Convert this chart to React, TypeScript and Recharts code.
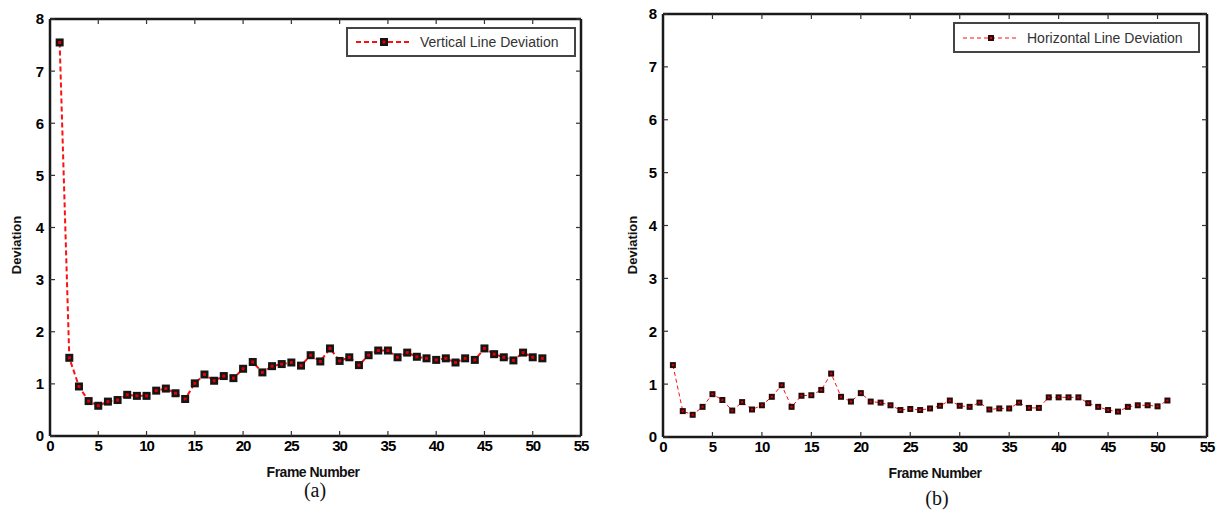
import React from "react"
import { LineChart, Line, XAxis, YAxis } from "recharts"

// frame numbers shared by both plots
const frames = [
  1, 2, 3, 4, 5, 6, 7, 8, 9, 10, 11, 12, 13, 14, 15, 16, 17, 18, 19, 20,
  21, 22, 23, 24, 25, 26, 27, 28, 29, 30, 31, 32, 33, 34, 35, 36, 37, 38, 39, 40,
  41, 42, 43, 44, 45, 46, 47, 48, 49, 50, 51
]

const verticalDeviation = [
  7.55, 1.5, 0.95, 0.67, 0.58, 0.66, 0.69, 0.79, 0.77, 0.77, 0.87, 0.91, 0.82, 0.71, 1.01, 1.18, 1.06, 1.15, 1.11, 1.29,
  1.42, 1.22, 1.34, 1.38, 1.41, 1.35, 1.55, 1.43, 1.68, 1.44, 1.51, 1.36, 1.55, 1.64, 1.64, 1.51, 1.6, 1.52, 1.49, 1.46,
  1.49, 1.41, 1.49, 1.46, 1.68, 1.57, 1.51, 1.45, 1.6, 1.51, 1.49
]

const horizontalDeviation = [
  1.36, 0.49, 0.42, 0.57, 0.81, 0.7, 0.5, 0.66, 0.52, 0.6, 0.76, 0.98, 0.57, 0.78, 0.79, 0.89, 1.2, 0.76, 0.67, 0.83,
  0.67, 0.65, 0.6, 0.51, 0.53, 0.51, 0.54, 0.59, 0.69, 0.59, 0.57, 0.65, 0.52, 0.54, 0.54, 0.65, 0.55, 0.55, 0.75, 0.75,
  0.75, 0.75, 0.64, 0.57, 0.51, 0.48, 0.57, 0.6, 0.6, 0.58, 0.69
]

const xTicks = [0, 5, 10, 15, 20, 25, 30, 35, 40, 45, 50, 55]
const yTicks = [0, 1, 2, 3, 4, 5, 6, 7, 8]

const fontStack = "Liberation Sans, Arial, sans-serif"
const axisStroke = { stroke: "#1a1a1a", strokeWidth: 2.5 }
const tickStroke = { stroke: "#333", strokeWidth: 1.2 }
const tickTextStyle = { fontFamily: fontStack, fontWeight: 900, fontSize: 15, fill: "#000" }

function renderBottomTick({ x, y, payload }: any) {
  return (
    <text x={x} y={y} dy="0.75em" textAnchor="middle" style={tickTextStyle} letterSpacing={-1}>
      {payload.value}
    </text>
  )
}

function renderLeftTick({ x, y, payload }: any) {
  return (
    <text x={x} y={y} dy="0.36em" textAnchor="end" style={tickTextStyle}>
      {payload.value}
    </text>
  )
}

function SquareDot({ cx, cy, size, inner, outer }: any) {
  if (cx == null || cy == null) return null
  return (
    <g>
      <rect x={cx - size / 2} y={cy - size / 2} width={size} height={size} fill={outer} />
      <rect x={cx - inner / 2} y={cy - inner / 2} width={inner} height={inner} fill="#e00000" />
    </g>
  )
}

interface PanelProps {
  left: number
  width: number
  margin: { top: number; right: number; bottom: number; left: number }
  values: number[]
  name: string
  lineWidth: number
  dash: string
  dotSize: number
  dotInner: number
  dotOuter: string
  legend: { left: number; top: number; width: number; height: number }
  yLabelX: number
  xLabelX: number
  xLabelY: number
  caption: string
  captionX: number
  captionY: number
}

function Panel(p: PanelProps) {
  const data = frames.map((f, i) => ({ frame: f, value: p.values[i] }))

  return (
    <>
      <div style={{ position: "absolute", left: p.left, top: 0 }}>
        <LineChart width={p.width} height={514} data={data} margin={p.margin}>
          <XAxis
            dataKey="frame"
            type="number"
            domain={[0, 55]}
            ticks={xTicks}
            interval={0}
            height={30}
            tickSize={-5}
            tickMargin={9}
            tick={renderBottomTick}
            axisLine={axisStroke}
            tickLine={tickStroke}
          />
          <XAxis
            xAxisId="top"
            orientation="top"
            dataKey="frame"
            type="number"
            domain={[0, 55]}
            ticks={xTicks}
            interval={0}
            height={1}
            tickSize={-5}
            tickFormatter={() => ""}
            axisLine={axisStroke}
            tickLine={tickStroke}
          />
          <YAxis
            type="number"
            domain={[0, 8]}
            ticks={yTicks}
            interval={0}
            width={30}
            tickSize={-5}
            tickMargin={11}
            tick={renderLeftTick}
            axisLine={axisStroke}
            tickLine={tickStroke}
          />
          <YAxis
            yAxisId="right"
            orientation="right"
            type="number"
            domain={[0, 8]}
            ticks={yTicks}
            interval={0}
            width={1}
            tickSize={-5}
            tickFormatter={() => ""}
            axisLine={axisStroke}
            tickLine={tickStroke}
          />
          {/* invisible series so the box axes on top/right are drawn */}
          <Line
            xAxisId="top"
            yAxisId="right"
            dataKey="value"
            stroke="none"
            dot={false}
            activeDot={false}
            legendType="none"
            isAnimationActive={false}
          />
          <Line
            type="linear"
            dataKey="value"
            name={p.name}
            stroke="#ff1010"
            strokeWidth={p.lineWidth}
            strokeDasharray={p.dash}
            isAnimationActive={false}
            dot={(d: any) => (
              <SquareDot key={d.index} cx={d.cx} cy={d.cy} size={p.dotSize} inner={p.dotInner} outer={p.dotOuter} />
            )}
            activeDot={false}
          />
        </LineChart>
      </div>

      {/* Legend box */}
      <div
        style={{
          position: "absolute",
          left: p.legend.left,
          top: p.legend.top,
          width: p.legend.width,
          height: p.legend.height,
          boxSizing: "border-box",
          border: "2px solid #444",
          background: "#fff",
          display: "flex",
          alignItems: "center",
          fontFamily: fontStack,
          fontSize: 14,
          color: "#333"
        }}
      >
        <svg width={58} height={14} style={{ marginLeft: 8, marginRight: 6 }}>
          <line x1={0} y1={7} x2={56} y2={7} stroke="#ff1010" strokeWidth={p.lineWidth} strokeDasharray={p.dash} />
          <SquareDot cx={28} cy={7} size={p.dotSize} inner={p.dotInner} outer={p.dotOuter} />
        </svg>
        <span>{p.name}</span>
      </div>

      {/* Axis titles */}
      <div
        style={{
          position: "absolute",
          left: p.yLabelX,
          top: 245,
          transform: "translate(-50%, -50%) rotate(-90deg)",
          fontFamily: fontStack,
          fontWeight: 700,
          fontSize: 13,
          color: "#111",
          whiteSpace: "nowrap"
        }}
      >
        Deviation
      </div>
      <div
        style={{
          position: "absolute",
          left: p.xLabelX,
          top: p.xLabelY,
          transform: "translate(-50%, -50%)",
          fontFamily: fontStack,
          fontWeight: 700,
          fontSize: 14,
          letterSpacing: -0.5,
          color: "#111",
          whiteSpace: "nowrap"
        }}
      >
        Frame Number
      </div>
      <div
        style={{
          position: "absolute",
          left: p.captionX,
          top: p.captionY,
          transform: "translate(-50%, -50%)",
          fontFamily: "Liberation Serif, Times New Roman, serif",
          fontSize: 20,
          color: "#111",
          whiteSpace: "nowrap"
        }}
      >
        {p.caption}
      </div>
    </>
  )
}

export default function App() {
  return (
    <div style={{ position: "absolute", left: 0, top: 0, width: 1221, height: 514, background: "#fff", overflow: "hidden" }}>
      <Panel
        left={0}
        width={600}
        margin={{ top: 18, right: 18, bottom: 48, left: 20 }}
        values={verticalDeviation}
        name="Vertical Line Deviation"
        lineWidth={2}
        dash="5 3"
        dotSize={8}
        dotInner={3}
        dotOuter="#151515"
        legend={{ left: 346, top: 27, width: 230, height: 30 }}
        yLabelX={16}
        xLabelX={313}
        xLabelY={472}
        caption="(a)"
        captionX={315}
        captionY={490}
      />
      <Panel
        left={610}
        width={611}
        margin={{ top: 13, right: 13, bottom: 47, left: 23 }}
        values={horizontalDeviation}
        name="Horizontal Line Deviation"
        lineWidth={1}
        dash="4 3"
        dotSize={6}
        dotInner={2}
        dotOuter="#2a0a0a"
        legend={{ left: 953, top: 22, width: 247, height: 31 }}
        yLabelX={632}
        xLabelX={935}
        xLabelY={473}
        caption="(b)"
        captionX={937}
        captionY={498}
      />
    </div>
  )
}
